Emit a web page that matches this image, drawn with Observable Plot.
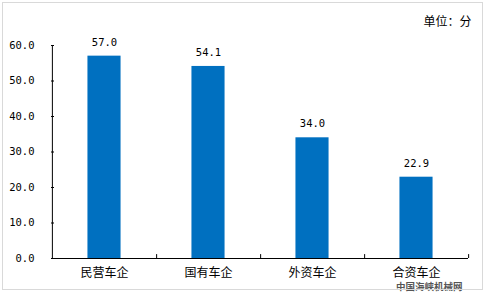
<!DOCTYPE html>
<html>
<head>
<meta charset="utf-8">
<script src="https://cdn.jsdelivr.net/npm/d3@7"></script>
<script src="https://cdn.jsdelivr.net/npm/@observablehq/plot@0.6"></script>
<style>
  body { margin: 0; background: #fff; }
  #wrap { position: relative; width: 485px; height: 293px; }
  #border { position: absolute; left: 2px; top: 2px; width: 479px; height: 286px; border: 1px solid #d9d9d9; pointer-events: none; }
  #wrap svg { position: absolute; left: 0; top: 0; }
</style>
</head>
<body>
<div id="wrap"><div id="border"></div></div>
<script>
const categories = ["民营车企", "国有车企", "外资车企", "合资车企"];
const values = [57.0, 54.1, 34.0, 22.9];
const yTicks = [0, 10, 20, 30, 40, 50, 60];
const unitLabel = "单位：分";
const watermark = "中国海峡机械网";

const data = categories.map((c, i) => ({category: c, value: values[i]}));

const W = 485, H = 293;
const mL = 51, mR = 17, mT = 45, mB = 35;
const bw = (W - mL - mR) / categories.length;
const inset = bw * 0.34;
const numFont = "DejaVu Sans Mono";
const cjkFont = "Noto Sans CJK SC";

const chart = Plot.plot({
  width: W,
  height: H,
  marginLeft: mL,
  marginRight: mR,
  marginTop: mT,
  marginBottom: mB,
  style: {background: "transparent", color: "#000", fontFamily: cjkFont},
  x: {domain: categories, padding: 0, label: null},
  y: {domain: [0, 60], label: null},
  marks: [
    Plot.barY(data, {x: "category", y: "value", fill: "#0070C0", insetLeft: inset, insetRight: inset}),
    Plot.text(data, {x: "category", y: "value", text: d => d.value.toFixed(1), dy: -14, fontSize: 10.5, fontFamily: numFont, fill: "#000"}),
    Plot.axisY({ticks: yTicks, tickFormat: d => d.toFixed(1), tickSize: 3, dx: 3, tickPadding: 17, fontSize: 10.5, fontFamily: numFont, label: null}),
    Plot.axisX({tickSize: 0, tickPadding: 10, fontSize: 12, fontFamily: cjkFont, label: null}),
    Plot.ruleX([categories[0]], {x: d => d, dx: -bw / 2, y1: 0, y2: 60, stroke: "#000", strokeWidth: 1}),
    Plot.ruleX(categories, {x: d => d, dx: bw / 2, y1: 0, y2: 1.1, stroke: "#000", strokeWidth: 1}),
    Plot.ruleY([0], {stroke: "#000", strokeWidth: 1}),
    Plot.text([unitLabel], {frameAnchor: "top-right", text: d => d, dx: 3, dy: -28, fontSize: 12, fontFamily: cjkFont, fill: "#000", textAnchor: "end"}),
    Plot.text([watermark], {frameAnchor: "bottom-right", text: d => d, dx: -6, dy: 31, fontSize: 9.5, fontWeight: "bold", fontFamily: cjkFont, fill: "#555", textAnchor: "end"})
  ]
});
document.getElementById("wrap").prepend(chart);
</script>
</body>
</html>
